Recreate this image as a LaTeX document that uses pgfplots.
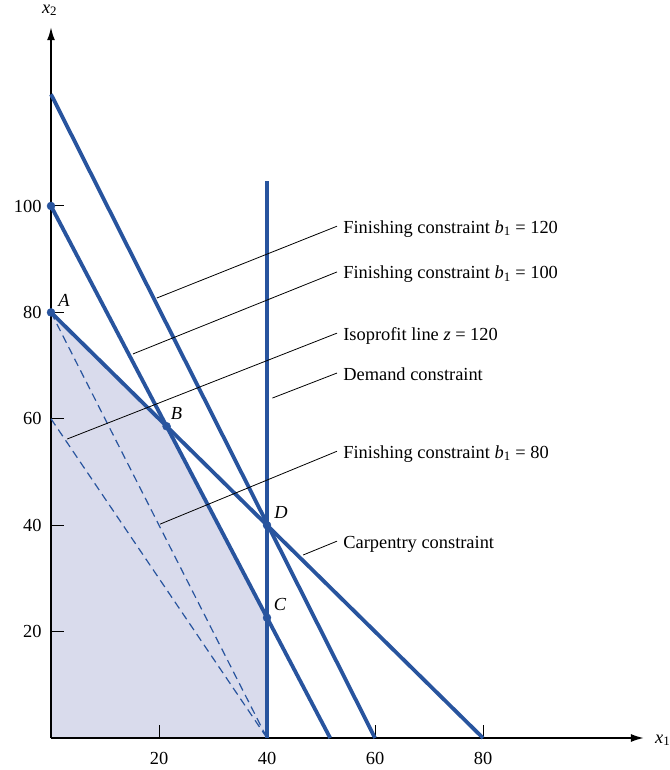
\documentclass[border=0pt]{standalone}
\usepackage{fontspec}
\setmainfont{Liberation Serif}
\usepackage{pgfplots}
\pgfplotsset{compat=1.18}
\usetikzlibrary{arrows.meta,calc}
\definecolor{lpblue}{RGB}{40,84,158}
\definecolor{lpshade}{RGB}{217,219,236}

\begin{document}
\begin{tikzpicture}[font=\fontsize{18.4}{22}\selectfont]
\begin{axis}[
  set layers,
  x=5.4pt, y=5.32pt,
  xmin=0, xmax=109.8, ymin=0, ymax=133.6,
  axis x line=bottom, axis y line=left,
  axis line style={line width=1.6pt, black},
  x axis line style={-{Latex[length=13pt,width=8pt]}},
  y axis line style={-{Latex[length=13pt,width=8pt]}},
  xtick={20,40,60,80}, ytick={20,40,60,80,100},
  tick align=inside, major tick length=13pt,
  tick style={black, line width=1pt},
  /pgf/number format/assume math mode=true,
  ticklabel style={font=\fontsize{18.4}{22}\selectfont},
  xticklabel style={yshift=-11pt},
  yticklabel style={xshift=-6pt},
  clip=false,
  scale only axis,
]
\coordinate (O) at (0,0);
% feasible region
\addplot[on layer=axis background, fill=lpshade, draw=none] coordinates {(0,0) (0,80) (21.4,58.6) (40,22.6) (40,0)} -- cycle;
% dashed lines
\addplot[lpblue, line width=1.2pt, dash pattern=on 8pt off 5pt] coordinates {(0,80) (40,0)};
\addplot[lpblue, line width=1.2pt, dash pattern=on 8pt off 5pt] coordinates {(0,60) (40,0)};
% constraint lines
\addplot[lpblue, line width=3.8pt] coordinates {(0,121) (60,0)};
\addplot[lpblue, line width=3.8pt] coordinates {(0,100) (51.7,0)};
\addplot[lpblue, line width=3.8pt] coordinates {(0,80) (80,0)};
\addplot[lpblue, line width=3.6pt] coordinates {(40,0) (40,104.7)};
% leaders
\draw[black, line width=0.8pt] (52.96,96.2) -- (19.6,82.7);
\draw[black, line width=0.8pt] (52.96,87.6) -- (15.2,72.2);
\draw[black, line width=0.8pt] (52.96,76.1) -- (3.0,56.2);
\draw[black, line width=0.8pt] (52.96,68.6) -- (41.0,63.9);
\draw[black, line width=0.8pt] (52.96,53.9) -- (20.2,40.2);
\draw[black, line width=0.8pt] (52.96,37.0) -- (46.7,34.4);
% labels
\node[anchor=base west, inner sep=0, yshift=-7pt] at (54.1,96.2) {Finishing constraint \textit{b}\textsubscript{1} = 120};
\node[anchor=base west, inner sep=0, yshift=-7pt] at (54.1,87.6) {Finishing constraint \textit{b}\textsubscript{1} = 100};
\node[anchor=base west, inner sep=0, yshift=-7pt] at (54.1,76.1) {Isoprofit line \textit{z} = 120};
\node[anchor=base west, inner sep=0, yshift=-7pt] at (54.1,68.6) {Demand constraint};
\node[anchor=base west, inner sep=0, yshift=-7pt] at (54.1,53.9) {Finishing constraint \textit{b}\textsubscript{1} = 80};
\node[anchor=base west, inner sep=0, yshift=-7pt] at (54.1,37.0) {Carpentry constraint};
% points
\addplot[only marks, mark=*, mark size=4pt, lpblue] coordinates {(0,100) (0,80) (21.4,58.6) (40,40) (40,22.6)};
\node[xshift=13pt, yshift=12pt] at (0,80) {\textit{A}};
\node[xshift=10pt, yshift=13pt] at (21.4,58.6) {\textit{B}};
\node[xshift=14pt, yshift=13pt] at (40,40) {\textit{D}};
\node[xshift=13pt, yshift=13pt] at (40,22.6) {\textit{C}};
% axis labels
\node[anchor=base west, inner sep=0, xshift=11pt, yshift=-5pt] at (109.8,0) {\textit{x}\textsubscript{1}};
\node[anchor=base west, inner sep=0] at (-1.7,136.2) {\textit{x}\textsubscript{2}};
\end{axis}
\pgfresetboundingbox
\path[use as bounding box] ($(O)+(-51pt,-32pt)$) rectangle ($(O)+(618pt,738pt)$);
\end{tikzpicture}
\end{document}
